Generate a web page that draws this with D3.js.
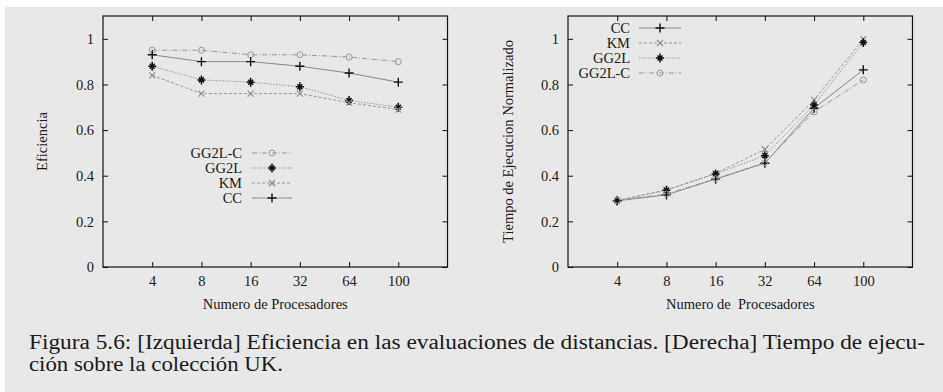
<!DOCTYPE html>
<html>
<head>
<meta charset="utf-8">
<script src="https://cdn.jsdelivr.net/npm/d3@7"></script>
<style>
  html, body { margin: 0; padding: 0; background: #ffffff; }
  svg { display: block; }
  svg text { font-family: "Liberation Serif", Tinos, "Times New Roman", Times, "DejaVu Serif", serif; fill: #1a1a1a; }
</style>
</head>
<body>
<svg id="fig" width="943" height="392"></svg>
<script>
// Processor counts shown on the x axis (evenly spaced categories)
const processors = ["4", "8", "16", "32", "64", "100"];
const yTicks = [0, 0.2, 0.4, 0.6, 0.8, 1];

// Left panel: efficiency of distance evaluations
const effGG2LC = [0.95, 0.95, 0.93, 0.93, 0.92, 0.90];
const effGG2L  = [0.88, 0.82, 0.81, 0.79, 0.73, 0.70];
const effKM    = [0.84, 0.76, 0.76, 0.76, 0.72, 0.69];
const effCC    = [0.93, 0.90, 0.90, 0.88, 0.85, 0.81];

// Right panel: normalised execution time
const timeCC    = [0.29, 0.316, 0.385, 0.455, 0.696, 0.864];
const timeKM    = [0.292, 0.338, 0.41, 0.516, 0.732, 0.999];
const timeGG2L  = [0.29, 0.336, 0.408, 0.488, 0.71, 0.984];
const timeGG2LC = [0.292, 0.32, 0.387, 0.457, 0.68, 0.82];

const FONT = '"Liberation Serif", Tinos, "Times New Roman", Times, "DejaVu Serif", serif';

// Line/marker styles per method
const styles = {
  "GG2L-C": { stroke: "#9a9a9a", dash: "5,2,1,2", marker: "circle" },
  "GG2L":   { stroke: "#9a9a9a", dash: "1.5,1.5", marker: "star" },
  "KM":     { stroke: "#9a9a9a", dash: "3,2",     marker: "cross" },
  "CC":     { stroke: "#8a8a8a", dash: null,      marker: "plus" }
};

const svg = d3.select("#fig");

// page background
svg.append("rect").attr("x", 5).attr("y", 7).attr("width", 938).attr("height", 385).attr("fill", "#e8e8e8");

function drawMarker(g, type, cx, cy) {
  if (type === "circle") {
    g.append("circle").attr("cx", cx).attr("cy", cy).attr("r", 3)
      .attr("fill", "none").attr("stroke", "#9a9a9a").attr("stroke-width", 1);
  } else if (type === "plus") {
    g.append("path").attr("d", `M${cx - 4.5},${cy}H${cx + 4.5}M${cx},${cy - 4.5}V${cy + 4.5}`)
      .attr("stroke", "#111").attr("stroke-width", 1.4);
  } else if (type === "cross") {
    g.append("path").attr("d", `M${cx - 3},${cy - 3}L${cx + 3},${cy + 3}M${cx - 3},${cy + 3}L${cx + 3},${cy - 3}`)
      .attr("stroke", "#8a8a8a").attr("stroke-width", 1.1);
  } else if (type === "star") {
    g.append("path").attr("d", `M${cx - 4},${cy}H${cx + 4}M${cx},${cy - 4.5}V${cy + 4.5}M${cx - 2.5},${cy - 2.5}L${cx + 2.5},${cy + 2.5}M${cx - 2.5},${cy + 2.5}L${cx + 2.5},${cy - 2.5}`)
      .attr("stroke", "#111").attr("stroke-width", 1.5);
  }
}

function panel(opts) {
  const { left, right, top, bottom, series, yTitle, xTitle, legend } = opts;
  const x = d3.scaleLinear().domain([0, processors.length + 1]).range([left, right]);
  const y = d3.scaleLinear().domain([0, 1.1]).range([bottom, top]);
  const g = svg.append("g").attr("font-family", FONT);
  const fmt = d => d === 0 ? "0" : d === 1 ? "1" : d3.format(".1f")(d);

  const fontSize = 14.5;
  const tickVals = processors.map((_, i) => i + 1);

  // axes with inward ticks, mirrored on all sides
  const ax = [
    g.append("g").attr("transform", `translate(0,${bottom})`)
      .call(d3.axisBottom(x).tickValues(tickVals).tickFormat((d) => processors[d - 1]).tickSize(-5).tickPadding(9)),
    g.append("g").attr("transform", `translate(0,${top})`)
      .call(d3.axisTop(x).tickValues(tickVals).tickFormat("").tickSize(-5)),
    g.append("g").attr("transform", `translate(${left},0)`)
      .call(d3.axisLeft(y).tickValues(yTicks).tickFormat(fmt).tickSize(-5).tickPadding(9)),
    g.append("g").attr("transform", `translate(${right},0)`)
      .call(d3.axisRight(y).tickValues(yTicks).tickFormat("").tickSize(-5))
  ];
  ax.forEach(a => {
    a.attr("font-family", FONT).attr("font-size", fontSize);
    a.select(".domain").remove();
    a.selectAll("line").attr("stroke", "#111").attr("stroke-width", 1);
    a.selectAll("text").attr("fill", "#1a1a1a");
  });

  g.append("rect").attr("x", left).attr("y", top).attr("width", right - left).attr("height", bottom - top)
    .attr("fill", "none").attr("stroke", "#111").attr("stroke-width", 1.2);

  const line = d3.line().x((d, i) => x(i + 1)).y(d => y(d));
  series.forEach(s => {
    const st = styles[s.name];
    g.append("path").attr("d", line(s.values)).attr("fill", "none")
      .attr("stroke", st.stroke).attr("stroke-width", 1)
      .attr("stroke-dasharray", st.dash);
  });
  series.forEach(s => {
    const st = styles[s.name];
    s.values.forEach((v, i) => drawMarker(g, st.marker, x(i + 1), y(v)));
  });

  // legend
  legend.order.forEach((name, i) => {
    const st = styles[name];
    const ly = legend.y + i * legend.step;
    g.append("text").attr("x", legend.textX).attr("y", ly).attr("dy", "0.35em")
      .attr("text-anchor", "end").attr("font-size", fontSize).text(name);
    g.append("line").attr("x1", legend.lineX1).attr("x2", legend.lineX2).attr("y1", ly).attr("y2", ly)
      .attr("stroke", st.stroke).attr("stroke-width", 1).attr("stroke-dasharray", st.dash);
    drawMarker(g, st.marker, (legend.lineX1 + legend.lineX2) / 2, ly);
  });

  g.append("text").attr("x", (left + right) / 2).attr("y", bottom + 42)
    .attr("text-anchor", "middle").attr("font-size", fontSize).attr("xml:space", "preserve").text(xTitle);
  g.append("text").attr("transform", `translate(${opts.yTitleX},${(top + bottom) / 2}) rotate(-90)`)
    .attr("text-anchor", "middle").attr("dy", "0.35em").attr("font-size", fontSize).text(yTitle);
}

panel({
  left: 103, right: 447.5, top: 16, bottom: 267,
  yTitle: "Eficiencia", yTitleX: 42, xTitle: "Numero de Procesadores",
  series: [
    { name: "GG2L-C", values: effGG2LC },
    { name: "GG2L", values: effGG2L },
    { name: "KM", values: effKM },
    { name: "CC", values: effCC }
  ],
  legend: { order: ["GG2L-C", "GG2L", "KM", "CC"], y: 153, step: 15, textX: 242, lineX1: 252, lineX2: 292 }
});

panel({
  left: 568, right: 912.5, top: 16, bottom: 267,
  yTitle: "Tiempo de Ejecucion Normalizado", yTitleX: 508, xTitle: "Numero de\u00a0 Procesadores",
  series: [
    { name: "CC", values: timeCC },
    { name: "KM", values: timeKM },
    { name: "GG2L", values: timeGG2L },
    { name: "GG2L-C", values: timeGG2LC }
  ],
  legend: { order: ["CC", "KM", "GG2L", "GG2L-C"], y: 28, step: 15, textX: 630, lineX1: 639, lineX2: 681 }
});

// figure caption (justified first line, glyphs slightly widened)
const cap = svg.append("g").attr("font-family", FONT).attr("font-size", 20);
cap.append("text").attr("x", 29).attr("y", 349)
  .attr("textLength", 896).attr("lengthAdjust", "spacingAndGlyphs")
  .text("Figura 5.6: [Izquierda] Eficiencia en las evaluaciones de distancias. [Derecha] Tiempo de ejecu-");
cap.append("text").attr("x", 29).attr("y", 371)
  .attr("textLength", 254).attr("lengthAdjust", "spacingAndGlyphs")
  .text("ción sobre la colección UK.");
</script>
</body>
</html>
